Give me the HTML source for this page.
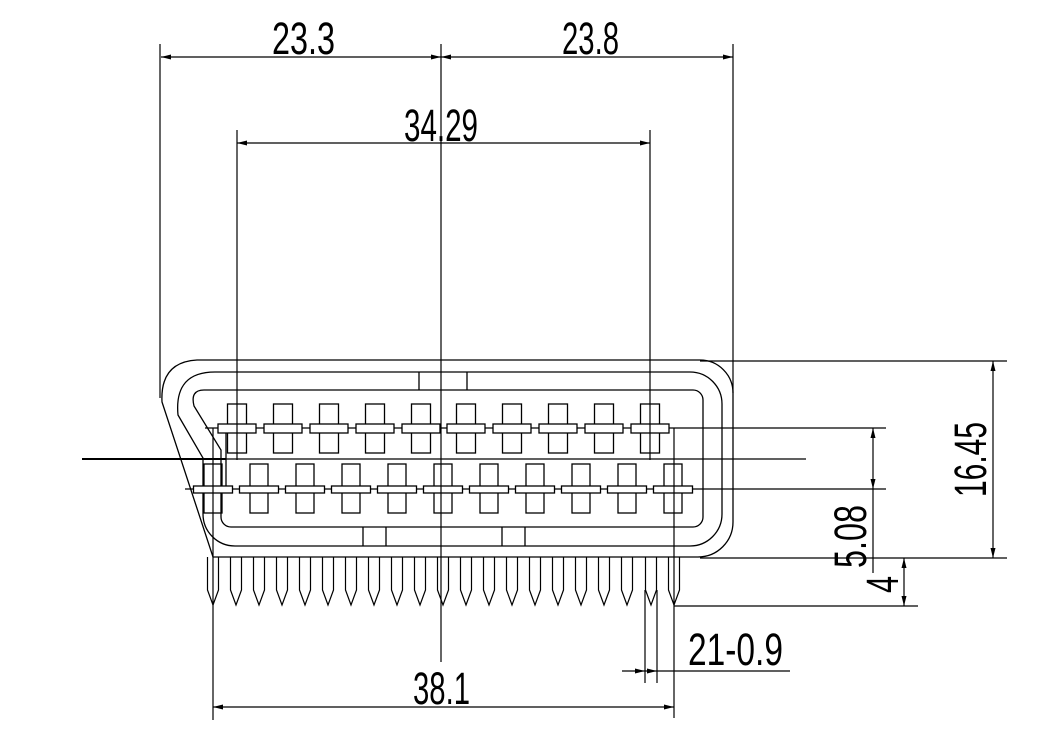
<!DOCTYPE html>
<html><head><meta charset="utf-8"><style>
html,body{margin:0;padding:0;background:#fff}
svg{display:block}
text{font-family:"Liberation Sans",sans-serif;fill:#000;font-size:45px}
</style></head><body>
<svg width="1047" height="753" viewBox="0 0 1047 753" xmlns="http://www.w3.org/2000/svg">
<defs>
<g id="tp" fill="none" stroke="#000" stroke-width="1.3">
<rect x="-9.5" y="404" width="19" height="49"/>
<rect x="-19" y="424" width="38" height="9" fill="#fff"/>
</g>
<g id="bp" fill="none" stroke="#000" stroke-width="1.3">
<rect x="-9" y="464" width="18" height="49"/>
<rect x="-19.5" y="486" width="39" height="7" fill="#fff"/>
</g>
<path id="pin" d="M-5.5,557 V590 L0,605 L5.5,590 V557" fill="none" stroke="#000" stroke-width="1.2"/>
<path id="ar" d="M0,0 L10,-2.5 L10,2.5 Z" fill="#000"/>
</defs>
<g fill="none" stroke="#000" stroke-width="1.3">
<path d="M197,360 H700 A33,33 0 0 1 733,393 V522 A35,35 0 0 1 698,557 H213 L162,402 Q160,362 197,360 Z"/>
<path d="M215,372 H690 A32,32 0 0 1 722,404 V514 A32,32 0 0 1 690,546 H235 A32,32 0 0 1 203,514 V458 L178,415 Q174,372 215,372 Z"/>
<path d="M204,390 H693 A10,10 0 0 1 703,400 V517 A10,10 0 0 1 693,527 H231 A10,10 0 0 1 221,517 V450 L194,406 Q190,390 204,390 Z"/>
<path d="M419,372 V390 M467,372 V390 M363,527 V546 M386,527 V546 M502,527 V546 M525,527 V546"/>
<path d="M205,428 H886 M185,489 H886 M82,459 H806 M226,428 V489"/>
<path d="M82,459 H226" stroke-width="2"/>
</g>
<use href="#tp" x="237"/><use href="#tp" x="283"/><use href="#tp" x="329"/><use href="#tp" x="375"/><use href="#tp" x="421"/>
<use href="#tp" x="466"/><use href="#tp" x="512"/><use href="#tp" x="558"/><use href="#tp" x="604"/><use href="#tp" x="650"/>
<use href="#bp" x="213"/><use href="#bp" x="259"/><use href="#bp" x="305"/><use href="#bp" x="351"/><use href="#bp" x="397"/><use href="#bp" x="443"/>
<use href="#bp" x="489"/><use href="#bp" x="535"/><use href="#bp" x="581"/><use href="#bp" x="627"/><use href="#bp" x="673"/>
<use href="#pin" x="213"/><use href="#pin" x="236"/><use href="#pin" x="259"/><use href="#pin" x="282"/><use href="#pin" x="305"/><use href="#pin" x="328"/><use href="#pin" x="351"/>
<use href="#pin" x="374"/><use href="#pin" x="397"/><use href="#pin" x="420"/><use href="#pin" x="443"/><use href="#pin" x="466"/><use href="#pin" x="489"/><use href="#pin" x="512"/>
<use href="#pin" x="535"/><use href="#pin" x="558"/><use href="#pin" x="581"/><use href="#pin" x="604"/><use href="#pin" x="627"/><use href="#pin" x="651"/><use href="#pin" x="674"/>
<g fill="none" stroke="#000" stroke-width="1.2">
<path d="M160,44 V398 M441,44 V662 M733,44 V393 M237,130 V460 M650,130 V460 M213,428 V720 M674,428 V718 M645,590 V683 M657,590 V683"/>
<path d="M161,57 H733 M237,143 H650 M213,707 H674"/>
<path d="M700,361 H1007 M700,558 H1007 M993,361 V558 M873,428 V573 M904,558 V606 M674,606 H918"/>
<path d="M622,671 H790"/>
</g>
<use href="#ar" transform="translate(161,57)"/><use href="#ar" transform="translate(441,57) rotate(180)"/>
<use href="#ar" transform="translate(441,57)"/><use href="#ar" transform="translate(733,57) rotate(180)"/>
<use href="#ar" transform="translate(237,143)"/><use href="#ar" transform="translate(650,143) rotate(180)"/>
<use href="#ar" transform="translate(213,707)"/><use href="#ar" transform="translate(674,707) rotate(180)"/>
<use href="#ar" transform="translate(993,361) rotate(90)"/><use href="#ar" transform="translate(993,558) rotate(-90)"/>
<use href="#ar" transform="translate(873,428) rotate(90)"/><use href="#ar" transform="translate(873,489) rotate(-90)"/>
<use href="#ar" transform="translate(904,558) rotate(90)"/><use href="#ar" transform="translate(904,606) rotate(-90)"/>
<use href="#ar" transform="translate(645,671) rotate(180)"/><use href="#ar" transform="translate(657,671) rotate(180)"/>
<text x="272" y="54" textLength="63" lengthAdjust="spacingAndGlyphs">23.3</text>
<text x="562" y="54" textLength="57" lengthAdjust="spacingAndGlyphs">23.8</text>
<text x="404" y="141" textLength="74" lengthAdjust="spacingAndGlyphs">34.29</text>
<text x="413" y="704" textLength="57" lengthAdjust="spacingAndGlyphs">38.1</text>
<text x="688" y="665" textLength="95" lengthAdjust="spacingAndGlyphs">21-0.9</text>
<text transform="translate(986,497) rotate(-90)" x="0" y="0" font-size="42" textLength="75" lengthAdjust="spacingAndGlyphs">16.45</text>
<text transform="translate(866,568) rotate(-90)" x="0" y="0" font-size="42" textLength="63" lengthAdjust="spacingAndGlyphs">5.08</text>
<text transform="translate(898,593) rotate(-90)" x="0" y="0" font-size="42" textLength="17" lengthAdjust="spacingAndGlyphs">4</text>
</svg>
</body></html>
